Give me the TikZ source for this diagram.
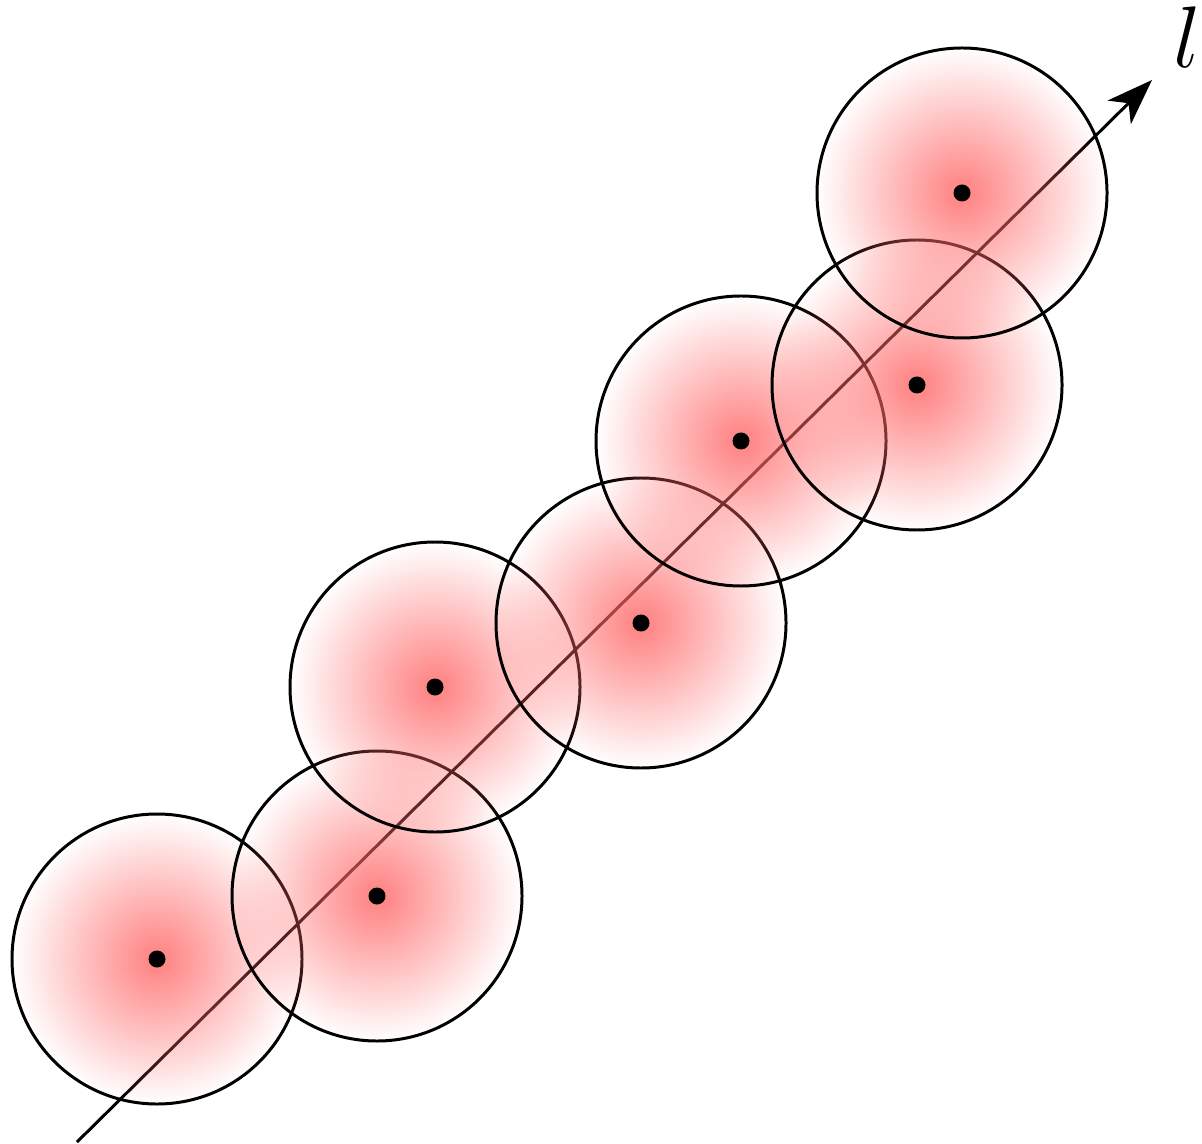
\documentclass[tikz,border=0pt]{standalone}
\usepackage{tikz}
\usetikzlibrary{arrows.meta,fadings}
\tikzfading[name=blobfade, inner color=transparent!0, outer color=transparent!100]

\begin{document}
\begin{tikzpicture}
\tikzset{
  blob/.style={circle, draw=black, line width=0.85pt, minimum size=2.9cm, inner sep=0pt,
               preaction={fill=red!60, fill opacity=0.83, path fading=blobfade}},
  ctr/.style={circle, fill=black, minimum size=0.17cm, inner sep=0pt},
  ax/.style={-{Stealth[length=4.6mm, width=3.3mm, inset=1.3mm]}, line width=0.85pt}
}
\useasboundingbox (0,0) rectangle (12.02,11.43);

% axis
\coordinate (a0) at (0.77,0.01);
\coordinate (a1) at (11.52,10.63);
\draw[ax] (a0) -- (a1);
\node[font=\fontsize{25}{30}\selectfont, inner sep=0pt] (lab) at (11.87,11.06) {$l$};

% discs
\node[blob] (c1) at (1.57,1.84) {};
\node[blob] (c2) at (3.77,2.47) {};
\node[blob] (c3) at (4.35,4.56) {};
\node[blob] (c4) at (6.41,5.20) {};
\node[blob] (c5) at (7.41,7.02) {};
\node[blob] (c6) at (9.17,7.58) {};
\node[blob] (c7) at (9.62,9.50) {};

% centres
\node[ctr] (p1) at (c1.center) {};
\node[ctr] (p2) at (c2.center) {};
\node[ctr] (p3) at (c3.center) {};
\node[ctr] (p4) at (c4.center) {};
\node[ctr] (p5) at (c5.center) {};
\node[ctr] (p6) at (c6.center) {};
\node[ctr] (p7) at (c7.center) {};
\end{tikzpicture}
\end{document}
